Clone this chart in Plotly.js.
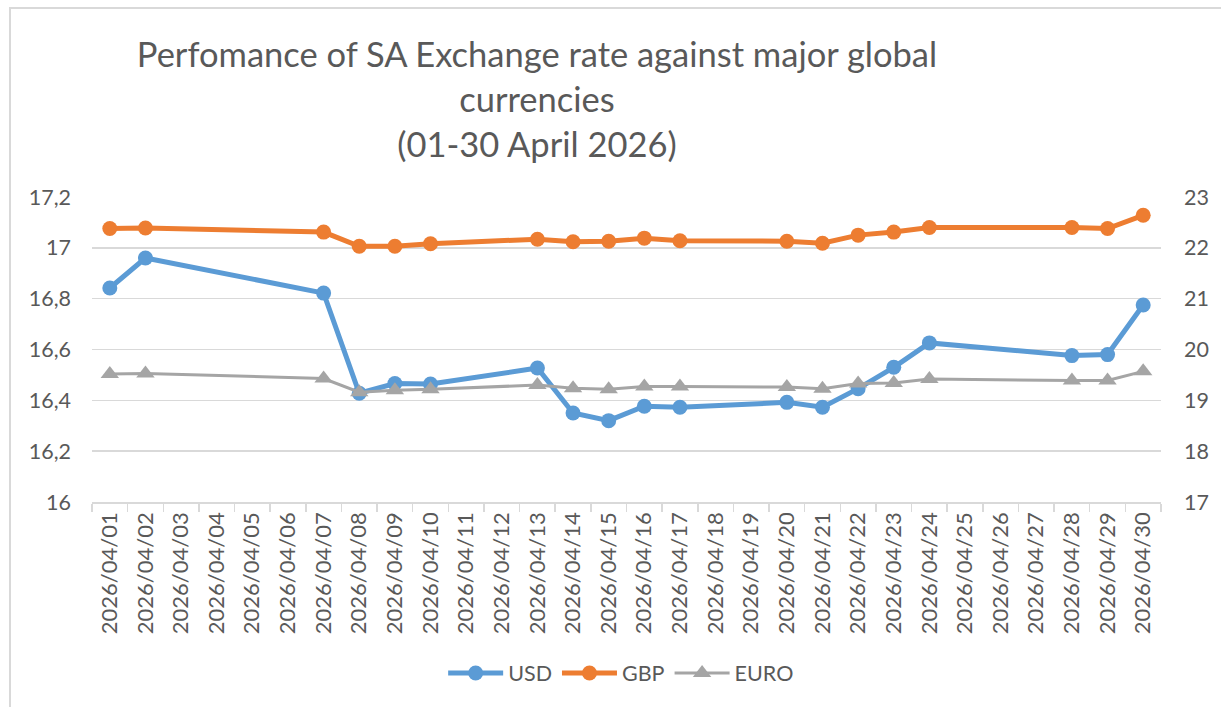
<!DOCTYPE html>
<html>
<head>
<meta charset="utf-8">
<script src="https://cdn.plot.ly/plotly-3.0.1.min.js"></script>
<style>
  html, body { margin: 0; padding: 0; background: #fff; }
  #wrap { position: relative; width: 1221px; height: 707px; }
  #chart { width: 1221px; height: 707px; }
  #frame { position: absolute; left: 9px; top: 7px; right: 0; bottom: 0;
           border-left: 2px solid #d9d9d9; border-top: 2px solid #d9d9d9; pointer-events: none; }
</style>
</head>
<body>
<div id="wrap"><div id="chart"></div><div id="frame"></div></div>
<script>
// All calendar days shown on the category axis
const allDates = [
  "2026/04/01","2026/04/02","2026/04/03","2026/04/04","2026/04/05","2026/04/06",
  "2026/04/07","2026/04/08","2026/04/09","2026/04/10","2026/04/11","2026/04/12",
  "2026/04/13","2026/04/14","2026/04/15","2026/04/16","2026/04/17","2026/04/18",
  "2026/04/19","2026/04/20","2026/04/21","2026/04/22","2026/04/23","2026/04/24",
  "2026/04/25","2026/04/26","2026/04/27","2026/04/28","2026/04/29","2026/04/30"
];
// Trading days with observations
const tradeDates = [
  "2026/04/01","2026/04/02","2026/04/07","2026/04/08","2026/04/09","2026/04/10",
  "2026/04/13","2026/04/14","2026/04/15","2026/04/16","2026/04/17","2026/04/20",
  "2026/04/21","2026/04/22","2026/04/23","2026/04/24","2026/04/28","2026/04/29",
  "2026/04/30"
];
const usd  = [16.842,16.960,16.822,16.428,16.466,16.464,16.527,16.350,16.320,16.377,16.373,16.392,16.373,16.446,16.530,16.626,16.576,16.580,16.775];
const gbp  = [22.38,22.39,22.31,22.03,22.03,22.08,22.17,22.12,22.13,22.19,22.14,22.13,22.09,22.25,22.31,22.40,22.40,22.38,22.64];
const euro = [19.52,19.53,19.43,19.16,19.20,19.22,19.30,19.24,19.22,19.27,19.27,19.26,19.23,19.33,19.34,19.42,19.39,19.39,19.57];

const FONT = "Lato, 'Open Sans', sans-serif";
const TXT = "#595959";

const traces = [
  { x: tradeDates, y: usd, name: "USD", type: "scatter", mode: "lines+markers", yaxis: "y",
    line: { color: "#5B9BD5", width: 5 }, marker: { color: "#5B9BD5", size: 15, symbol: "circle" } },
  { x: tradeDates, y: gbp, name: "GBP", type: "scatter", mode: "lines+markers", yaxis: "y2",
    line: { color: "#ED7D31", width: 5 }, marker: { color: "#ED7D31", size: 15, symbol: "circle" } },
  { x: tradeDates, y: euro, name: "EURO", type: "scatter", mode: "lines+markers", yaxis: "y2",
    line: { color: "#A5A5A5", width: 3 }, marker: { color: "#A5A5A5", size: 16, symbol: "triangle-up" } }
];

const layout = {
  width: 1221, height: 707,
  paper_bgcolor: "#ffffff", plot_bgcolor: "#ffffff",
  margin: { l: 92, r: 60, t: 197, b: 205, autoexpand: false },
  separators: ", ",
  font: { family: FONT, color: TXT, size: 20 },
  showlegend: true,
  title: {
    text: "Perfomance of SA Exchange rate against major global<br>currencies<br>(01-30 April 2026)",
    x: 537 / 1221, xref: "container", xanchor: "center",
    y: 1 - 67 / 707, yref: "container", yanchor: "top",
    font: { family: FONT, size: 34.5, color: TXT }
  },
  xaxis: {
    type: "category", categoryorder: "array", categoryarray: allDates,
    range: [-0.5, allDates.length - 0.5],
    tickmode: "array", tickvals: allDates, ticktext: allDates,
    tickangle: -90, tickson: "boundaries", ticks: "outside", ticklen: 8,
    tickcolor: "#d9d9d9", tickwidth: 1.5,
    showline: true, linecolor: "#d9d9d9", linewidth: 1.5,
    showgrid: false, zeroline: false, fixedrange: true,
    tickfont: { family: FONT, size: 22, color: TXT }
  },
  yaxis: {
    range: [16, 17.2], dtick: 0.2, tick0: 16,
    showgrid: true, gridcolor: "#d9d9d9", gridwidth: 1.5,
    zeroline: false, showline: false, ticks: "", ticklabelstandoff: 20,
    tickfont: { family: FONT, size: 21.5, color: TXT }
  },
  yaxis2: {
    range: [17, 23], dtick: 1, tick0: 17,
    overlaying: "y", side: "right",
    showgrid: false, zeroline: false, showline: false, ticks: "", ticklabelstandoff: 22,
    tickfont: { family: FONT, size: 21.5, color: TXT }
  },
  legend: {
    orientation: "h", x: 0.495, xanchor: "center", y: (502 - 673) / 305, yanchor: "middle",
    itemwidth: 55, font: { family: FONT, size: 21.5, color: TXT }, bgcolor: "rgba(0,0,0,0)",
    traceorder: "normal"
  }
};

Plotly.newPlot("chart", traces, layout, { displayModeBar: false, staticPlot: true });
</script>
</body>
</html>
